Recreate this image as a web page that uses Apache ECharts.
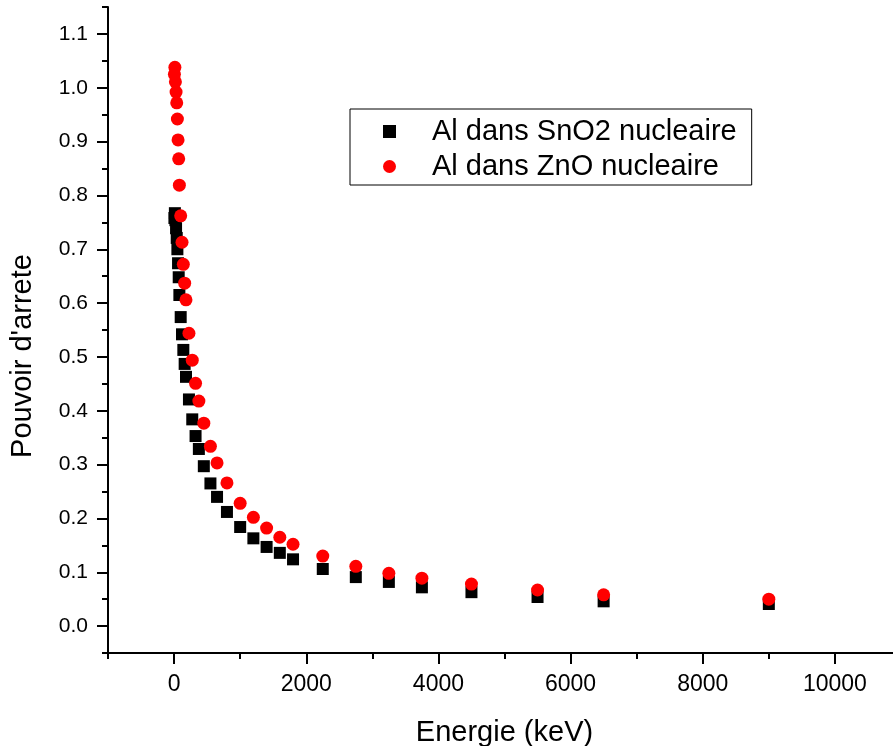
<!DOCTYPE html>
<html>
<head>
<meta charset="utf-8">
<script src="https://cdn.jsdelivr.net/npm/echarts@6/dist/echarts.min.js"></script>
<style>
html,body{margin:0;padding:0;background:#fff;}
#chart{width:893px;height:746px;}
</style>
</head>
<body>
<div id="chart"></div>
<script>
// Data
const energy = [5, 12, 20, 30, 40, 50, 60, 70, 80, 100, 120, 140, 160, 180, 225, 275, 325, 375, 450, 550, 650, 800, 1000, 1200, 1400, 1600, 1800, 2250, 2750, 3250, 3750, 4500, 5500, 6500, 9000];
const snO2 = [0.758, 0.767, 0.754, 0.739, 0.721, 0.700, 0.674, 0.648, 0.615, 0.574, 0.542, 0.513, 0.487, 0.463, 0.421, 0.384, 0.353, 0.329, 0.297, 0.265, 0.240, 0.212, 0.184, 0.163, 0.147, 0.136, 0.124, 0.106, 0.091, 0.082, 0.072, 0.063, 0.054, 0.046, 0.041];
const znO = [1.025, 1.038, 1.011, 0.992, 0.972, 0.942, 0.903, 0.868, 0.819, 0.762, 0.713, 0.672, 0.637, 0.606, 0.544, 0.494, 0.451, 0.418, 0.377, 0.334, 0.303, 0.266, 0.228, 0.202, 0.182, 0.165, 0.152, 0.130, 0.111, 0.098, 0.089, 0.078, 0.067, 0.058, 0.050];
const seriesNames = ['Al dans SnO2 nucleaire', 'Al dans ZnO nucleaire'];
const xTickLabels = ['0', '2000', '4000', '6000', '8000', '10000'];
const yTickLabels = ['0.0', '0.1', '0.2', '0.3', '0.4', '0.5', '0.6', '0.7', '0.8', '0.9', '1.0', '1.1'];

const FONT = 'Liberation Sans, Arial, Helvetica, sans-serif';
const xTickValues = xTickLabels.map(Number);
const yTickValues = yTickLabels.map(Number);
const lineStyle = {color: '#000', width: 2};
const gridRect = {left: 108, top: 7, width: 793, height: 646, containLabel: false, outerBoundsMode: 'none'};

const chart = echarts.init(document.getElementById('chart'), null, {renderer: 'canvas'});
chart.setOption({
  backgroundColor: '#fff',
  animation: false,
  grid: [Object.assign({}, gridRect), Object.assign({}, gridRect)],
  legend: {
    orient: 'vertical',
    left: 350, top: 109,
    padding: [5, 15, 1, 33],
    itemWidth: 13, itemHeight: 13, itemGap: 0,
    borderColor: '#000', borderWidth: 1,
    backgroundColor: '#fff',
    textStyle: {fontFamily: FONT, fontSize: 29, color: '#000', lineHeight: 35, padding: [0, 0, 0, 31]},
    data: seriesNames
  },
  xAxis: [
    {
      type: 'value', gridIndex: 0, min: -1000, max: 11000, interval: 1000,
      axisLine: {show: true, onZero: false, lineStyle: lineStyle},
      axisTick: {show: true, length: 6, lineStyle: lineStyle},
      axisLabel: {show: false},
      splitLine: {show: false},
      name: 'Energie (keV)', nameLocation: 'middle', nameGap: 65,
      nameTextStyle: {fontFamily: FONT, fontSize: 29, color: '#000'}
    },
    {
      type: 'value', gridIndex: 1, position: 'bottom', min: -1000, max: 11000, interval: 1000,
      axisLine: {show: false, onZero: false},
      axisTick: {show: true, length: 11, customValues: xTickValues, lineStyle: lineStyle},
      axisLabel: {show: true, customValues: xTickValues, fontFamily: FONT, fontSize: 23, color: '#000', margin: 20,
        formatter: function (v) { const i = xTickValues.indexOf(v); return i >= 0 ? xTickLabels[i] : ''; }},
      splitLine: {show: false}
    }
  ],
  yAxis: [
    {
      type: 'value', gridIndex: 0, min: -0.05, max: 1.15, interval: 0.05,
      axisLine: {show: true, onZero: false, lineStyle: lineStyle},
      axisTick: {show: true, length: 6, lineStyle: lineStyle},
      axisLabel: {show: false},
      splitLine: {show: false},
      name: "Pouvoir d'arrete", nameLocation: 'middle', nameGap: 71,
      nameTextStyle: {fontFamily: FONT, fontSize: 29, color: '#000', padding: [0, 52, 0, 0]}
    },
    {
      type: 'value', gridIndex: 1, position: 'left', min: -0.05, max: 1.15, interval: 0.05,
      axisLine: {show: false, onZero: false},
      axisTick: {show: true, length: 11, customValues: yTickValues, lineStyle: lineStyle},
      axisLabel: {show: true, customValues: yTickValues, fontFamily: FONT, fontSize: 21, color: '#000', margin: 20,
        formatter: function (v) { return v.toFixed(1); }},
      splitLine: {show: false}
    }
  ],
  series: [
    {
      name: seriesNames[0], type: 'scatter', xAxisIndex: 0, yAxisIndex: 0,
      symbol: 'rect', symbolSize: 12,
      itemStyle: {color: '#000', opacity: 1},
      data: energy.map((e, i) => [e, snO2[i]]),
      z: 2
    },
    {
      name: seriesNames[1], type: 'scatter', xAxisIndex: 0, yAxisIndex: 0,
      symbol: 'circle', symbolSize: 13,
      itemStyle: {color: '#ff0000', opacity: 1},
      data: energy.map((e, i) => [e, znO[i]]),
      z: 3
    }
  ]
});
</script>
</body>
</html>
